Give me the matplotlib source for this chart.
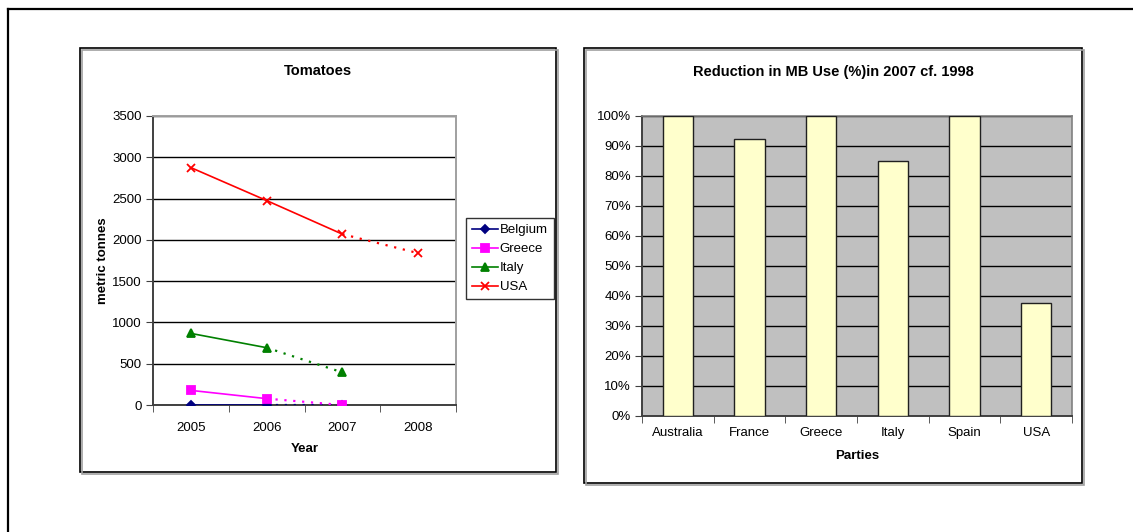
import matplotlib.pyplot as plt
from matplotlib.patches import Rectangle
from matplotlib.lines import Line2D
from matplotlib.ticker import PercentFormatter

plt.rcParams['font.family'] = ['Liberation Sans', 'DejaVu Sans']

# tomato use (metric tonnes); last point of each series is the projected one
years = ['2005', '2006', '2007', '2008']
belgium = [0, 0, 0]
greece = [177, 77, 0]
italy = [867, 694, 395]
usa = [2875, 2476, 2069, 1839]

# reduction in MB use, 2007 vs 1998
parties = ['Australia', 'France', 'Greece', 'Italy', 'Spain', 'USA']
reduction = [100, 92.4, 100, 85, 100, 37.8]

W, H = 1133, 532
fig = plt.figure(figsize=(W / 100, H / 100), dpi=100)


def fx(px):
    return px / W


def fy(py):
    return 1 - py / H


# page frame and the two chart boxes
fig.add_artist(Line2D([fx(8), fx(8)], [fy(9), 0], color='black', lw=1.6))
fig.add_artist(Line2D([fx(8), 1], [fy(9), fy(9)], color='black', lw=1.6))
for x0, x1, y0, y1 in [(80, 556, 48, 472), (584, 1082, 48, 483)]:
    fig.add_artist(Rectangle((fx(x0 + 1.5), fy(y1 + 1.5)), fx(x1 - x0), (y1 - y0) / H,
                             transform=fig.transFigure, fc='none', ec='#a0a0a0', lw=1.2))
    fig.add_artist(Rectangle((fx(x0), fy(y1)), fx(x1 - x0), (y1 - y0) / H,
                             transform=fig.transFigure, fc='white', ec='black', lw=1.2,
                             zorder=0.5))

# ---- Tomatoes line chart ----
ax1 = fig.add_axes([fx(153), fy(405), fx(456 - 153), (405 - 116) / H])
ax1.set_facecolor('white')
ax1.set_zorder(2)

series = [('Belgium', belgium, '#000080', 'D', 4),
          ('Greece', greece, '#ff00ff', 's', 6),
          ('Italy', italy, '#008000', '^', 6),
          ('USA', usa, '#ff0000', 'x', 6)]
handles = []
for name, vals, col, mk, ms in series:
    n = len(vals)
    x = list(range(n))
    # solid up to the second-to-last point, dotted for the last step
    ax1.plot(x[:n - 1], vals[:n - 1], color=col, lw=1.2, zorder=3)
    ax1.plot(x[n - 2:], vals[n - 2:], color=col, lw=1.6, ls=(0, (1, 3)), zorder=3)
    ax1.plot(x, vals, ls='none', marker=mk, ms=ms, color=col, mec=col, mew=1.3, zorder=4)
    handles.append(Line2D([], [], color=col, lw=1.2, marker=mk, ms=ms, mew=1.3, label=name))

ax1.set_xlim(-0.5, 3.5)
ax1.set_ylim(0, 3500)
ax1.set_yticks(range(0, 3501, 500))
ax1.set_xticks(range(4))
ax1.set_xticklabels(years)
ax1.set_xticks([-0.5, 0.5, 1.5, 2.5, 3.5], minor=True)
ax1.tick_params(axis='x', which='major', length=0, pad=12, labelsize=9.5)
ax1.tick_params(axis='x', which='minor', length=5, direction='out', color='#404040')
ax1.tick_params(axis='y', length=5, direction='out', color='#404040', labelsize=9.5, pad=3)
ax1.grid(axis='y', color='black', lw=1.0)
ax1.set_axisbelow(True)
for side in ['top', 'right']:
    ax1.spines[side].set_color('#a0a0a0')
    ax1.spines[side].set_linewidth(1.4)
ax1.spines['left'].set_color('#404040')
ax1.spines['left'].set_linewidth(1.4)
ax1.spines['bottom'].set_color('#404040')
ax1.spines['bottom'].set_linewidth(1.4)
ax1.set_xlabel('Year', fontweight='bold', fontsize=9.5, labelpad=7)
ax1.set_ylabel('metric tonnes', fontweight='bold', fontsize=9.5, labelpad=2)
fig.text(fx(318), fy(71), 'Tomatoes', ha='center', va='center', fontweight='bold', fontsize=10.5)

leg = fig.legend(handles=handles, loc='upper left', bbox_to_anchor=(fx(466), fy(218)),
                 frameon=True, fancybox=False, edgecolor='black', fontsize=9.5,
                 handlelength=2.0, handletextpad=0.1, borderpad=0.45, labelspacing=0.52,
                 borderaxespad=0)
leg.get_frame().set_linewidth(1.0)

# ---- MB reduction bar chart ----
ax2 = fig.add_axes([fx(642), fy(416), fx(1072 - 642), (416 - 116) / H])
ax2.set_facecolor('#c0c0c0')
ax2.set_zorder(2)
xs = range(len(parties))
ax2.bar(xs, reduction, width=0.42, color='#ffffcc', edgecolor='#202020', lw=1.0, zorder=3)
ax2.set_xlim(-0.5, len(parties) - 0.5)
ax2.set_ylim(0, 100)
ax2.set_yticks(range(0, 101, 10))
ax2.yaxis.set_major_formatter(PercentFormatter(decimals=0))
ax2.set_xticks(list(xs))
ax2.set_xticklabels(parties)
ax2.set_xticks([i - 0.5 for i in range(len(parties) + 1)], minor=True)
ax2.tick_params(axis='x', which='major', length=0, pad=8, labelsize=9.5)
ax2.tick_params(axis='x', which='minor', length=5, direction='out', color='#404040')
ax2.tick_params(axis='y', length=5, direction='out', color='#404040', labelsize=9.5, pad=3)
ax2.grid(axis='y', color='black', lw=1.0)
ax2.set_axisbelow(True)
for side in ['top', 'right']:
    ax2.spines[side].set_color('#808080')
    ax2.spines[side].set_linewidth(1.2)
ax2.spines['left'].set_color('#404040')
ax2.spines['bottom'].set_color('#404040')
ax2.spines['left'].set_linewidth(1.4)
ax2.spines['bottom'].set_linewidth(1.4)
ax2.set_xlabel('Parties', fontweight='bold', fontsize=9.5, labelpad=8)
fig.text(fx(833), fy(72), 'Reduction in MB Use (%)in 2007 cf. 1998', ha='center', va='center',
         fontweight='bold', fontsize=10.5)

fig.savefig('out.png', dpi=100)
